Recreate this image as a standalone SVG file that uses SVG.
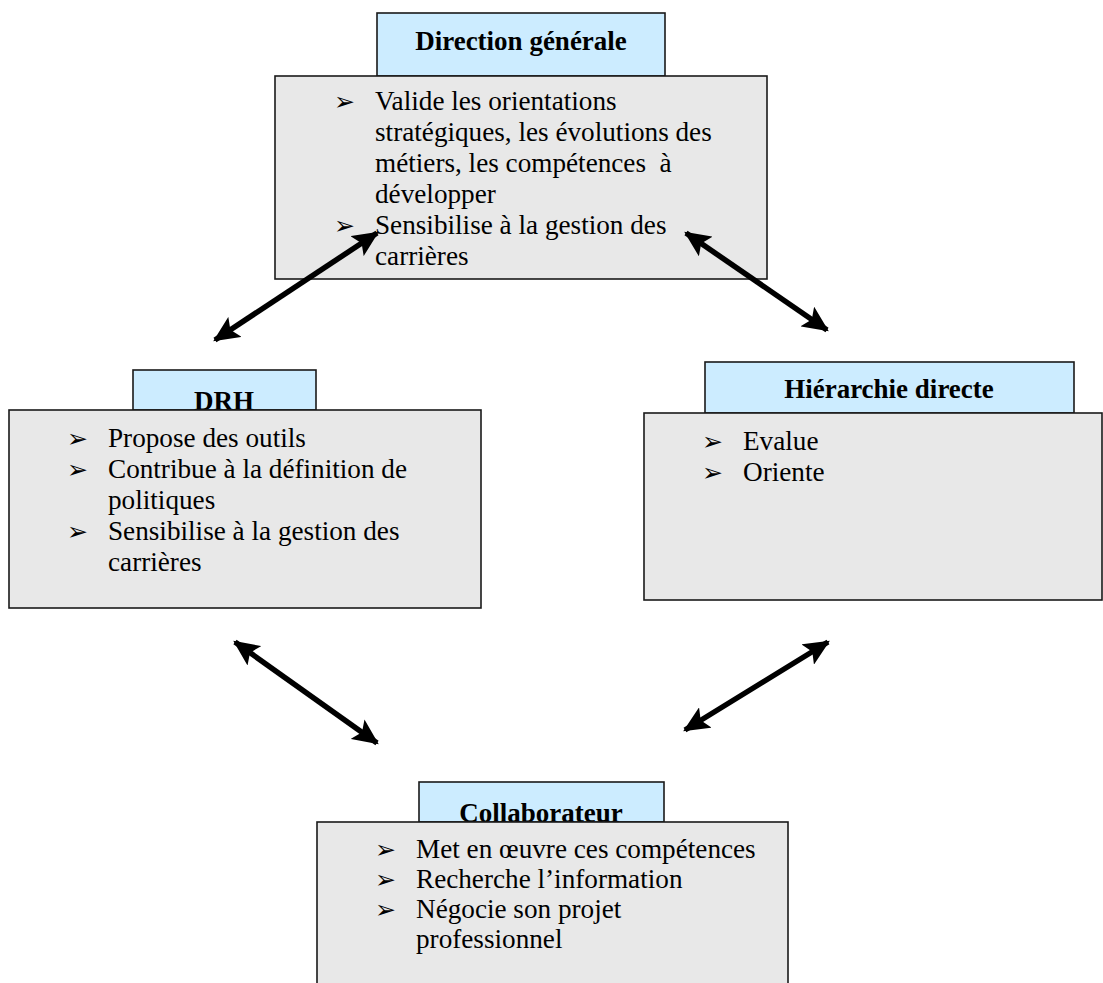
<svg xmlns="http://www.w3.org/2000/svg" width="1103" height="983" viewBox="0 0 1103 983">
<defs>
<style>
.title{fill:#CCECFF;stroke:#1a1a1a;stroke-width:1.6}
.body{fill:#E8E8E8;stroke:#1a1a1a;stroke-width:1.6}
.tt{font-family:"Liberation Serif","Times New Roman",serif;font-weight:bold;font-size:27px;fill:#000;text-anchor:middle}
.bt{font-family:"Liberation Serif","Times New Roman",serif;font-size:27.2px;fill:#000;white-space:pre}
.bl{font-family:"DejaVu Sans",sans-serif;font-size:25px;fill:#000}
.conn{stroke:#000;stroke-width:5.5;fill:none;marker-start:url(#ah);marker-end:url(#ah)}
</style>
<marker id="ah" markerUnits="userSpaceOnUse" markerWidth="26" markerHeight="24" refX="22" refY="11" orient="auto-start-reverse" viewBox="0 0 24 22">
<path d="M0,0 L24,11 L0,22 L5,11 Z" fill="#000"/>
</marker>
</defs>
<rect width="1103" height="983" fill="#fff"/>

<g id="direction-generale">
<rect class="title" x="377" y="13" width="288" height="63"/>
<text class="tt" x="521" y="50">Direction générale</text>
<rect class="body" x="275" y="76" width="492" height="203"/>
<text class="bl" x="334" y="110">➢</text>
<text class="bt" x="375" y="110">Valide les orientations</text>
<text class="bt" x="375" y="141">stratégiques, les évolutions des</text>
<text class="bt" x="375" y="172">métiers, les compétences  à</text>
<text class="bt" x="375" y="203">développer</text>
<text class="bl" x="334" y="234">➢</text>
<text class="bt" x="375" y="234">Sensibilise à la gestion des</text>
<text class="bt" x="375" y="265">carrières</text>
</g>

<g id="drh">
<rect class="title" x="133" y="370" width="183" height="40"/>
<text class="tt" x="224" y="410">DRH</text>
<rect class="body" x="9" y="410" width="472" height="198"/>
<text class="bl" x="67" y="447">➢</text>
<text class="bt" x="108" y="447">Propose des outils</text>
<text class="bl" x="67" y="478">➢</text>
<text class="bt" x="108" y="478">Contribue à la définition de</text>
<text class="bt" x="108" y="509">politiques</text>
<text class="bl" x="67" y="540">➢</text>
<text class="bt" x="108" y="540">Sensibilise à la gestion des</text>
<text class="bt" x="108" y="571">carrières</text>
</g>

<g id="hierarchie-directe">
<rect class="title" x="705" y="362" width="369" height="51"/>
<text class="tt" x="889" y="398">Hiérarchie directe</text>
<rect class="body" x="644" y="413" width="458" height="187"/>
<text class="bl" x="702" y="450">➢</text>
<text class="bt" x="743" y="450">Evalue</text>
<text class="bl" x="702" y="481">➢</text>
<text class="bt" x="743" y="481">Oriente</text>
</g>

<g id="collaborateur">
<rect class="title" x="419" y="782" width="245" height="40"/>
<text class="tt" x="541" y="822">Collaborateur</text>
<rect class="body" x="317" y="822" width="471" height="175"/>
<text class="bl" x="375" y="858">➢</text>
<text class="bt" x="416" y="858">Met en œuvre ces compétences</text>
<text class="bl" x="375" y="888">➢</text>
<text class="bt" x="416" y="888">Recherche l’information</text>
<text class="bl" x="375" y="918">➢</text>
<text class="bt" x="416" y="918">Négocie son projet</text>
<text class="bt" x="416" y="948">professionnel</text>
</g>

<g id="connectors">
<line class="conn" x1="215" y1="340" x2="377" y2="233"/>
<line class="conn" x1="686" y1="233" x2="827" y2="330"/>
<line class="conn" x1="235" y1="642" x2="377" y2="743"/>
<line class="conn" x1="828" y1="642" x2="685" y2="730"/>
</g>
</svg>
